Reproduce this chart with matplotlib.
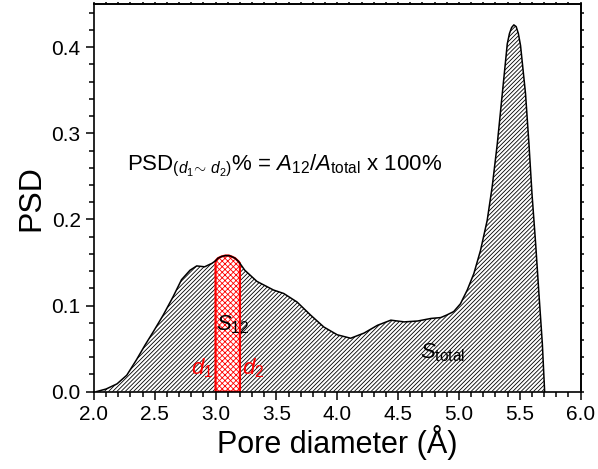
import numpy as np
import matplotlib
matplotlib.use('Agg')
import matplotlib.pyplot as plt
from matplotlib.ticker import MultipleLocator

plt.rcParams['font.family'] = ['Liberation Sans', 'DejaVu Sans']
plt.rcParams['mathtext.fontset'] = 'custom'
plt.rcParams['mathtext.rm'] = 'Liberation Sans'
plt.rcParams['mathtext.it'] = 'Liberation Sans:italic'
plt.rcParams['mathtext.bf'] = 'Liberation Sans:bold'
plt.rcParams['hatch.linewidth'] = 0.6

# pore size distribution
diameter = [2.02, 2.10, 2.19, 2.27, 2.35, 2.42, 2.49, 2.57, 2.65, 2.72, 2.79,
            2.845, 2.91, 2.97, 3.00, 3.02, 3.05, 3.08, 3.11, 3.13, 3.16, 3.19,
            3.20, 3.24, 3.34, 3.476, 3.56, 3.67, 3.78, 3.89, 4.00, 4.11, 4.22,
            4.33, 4.44, 4.55, 4.66, 4.77, 4.85, 4.90, 4.957, 5.012, 5.068,
            5.122, 5.177, 5.232, 5.273, 5.315, 5.356, 5.397, 5.415, 5.433, 5.451,
            5.47, 5.488, 5.506, 5.547, 5.575, 5.60, 5.63, 5.657, 5.685, 5.704]
psd = [0.0, 0.003, 0.009, 0.019, 0.037, 0.054, 0.070, 0.089, 0.110, 0.130, 0.141,
       0.146, 0.145, 0.149, 0.152, 0.155, 0.157, 0.158, 0.158, 0.157, 0.155, 0.151,
       0.149, 0.141, 0.128, 0.118, 0.114, 0.104, 0.089, 0.075, 0.066, 0.062, 0.068,
       0.077, 0.083, 0.081, 0.082, 0.085, 0.086, 0.089, 0.093, 0.102, 0.118,
       0.137, 0.164, 0.199, 0.238, 0.288, 0.346, 0.404, 0.416, 0.423, 0.426,
       0.424, 0.416, 0.402, 0.346, 0.288, 0.230, 0.172, 0.114, 0.056, 0.0]
d1, d2 = 3.0, 3.2

x = np.array(diameter)
y = np.array(psd)

fig, ax = plt.subplots(figsize=(5.98, 4.69), dpi=100)
fig.subplots_adjust(left=0.157, right=0.971, bottom=0.165, top=0.991)

ax.fill_between(x, 0, y, facecolor='white', edgecolor='black', hatch='/' * 8, linewidth=0)
ax.plot(x, y, color='black', lw=1.1)

sel = (x >= d1) & (x <= d2)
xs = x[sel]
ys = y[sel]
ax.fill(np.r_[d1, xs, d2], np.r_[0, ys, 0], facecolor='white', edgecolor='red',
        hatch='x' * 6, linewidth=1.6)

ax.text(2.27, 0.262,
        r'PSD$_{(\mathit{d}_1\!\sim\,\mathit{d}_2)}$% = $\mathit{A}_{\mathrm{12}}$/$\mathit{A}_{\mathrm{total}}$ x 100%',
        fontsize=16, va='center', ha='left')
ax.text(3.0, 0.078, r'$\mathit{S}_{\mathrm{12}}$', fontsize=16, va='center', ha='left')
ax.text(4.68, 0.045, r'$\mathit{S}_{\mathrm{total}}$', fontsize=16, va='center', ha='left')
ax.text(2.80, 0.027, r'$\mathit{d}_{1}$', fontsize=16, color='red', va='center', ha='left')
ax.text(3.22, 0.027, r'$\mathit{d}_{2}$', fontsize=16, color='red', va='center', ha='left')

ax.set_xlim(2.0, 6.0)
ax.set_ylim(0, 0.45)
ax.xaxis.set_major_locator(MultipleLocator(0.5))
ax.xaxis.set_minor_locator(MultipleLocator(0.1))
ax.yaxis.set_major_locator(MultipleLocator(0.1))
ax.yaxis.set_minor_locator(MultipleLocator(0.02))
ax.xaxis.set_major_formatter(plt.FormatStrFormatter('%.1f'))
ax.yaxis.set_major_formatter(plt.FormatStrFormatter('%.1f'))

ax.tick_params(which='both', direction='out', labelsize=15, width=1.1)
ax.tick_params(which='major', length=6)
ax.tick_params(which='minor', length=3.5)
for sp in ax.spines.values():
    sp.set_linewidth(1.2)

# short ticks on the top and right frame
top = ax.secondary_xaxis('top')
top.xaxis.set_major_locator(MultipleLocator(0.5))
top.xaxis.set_minor_locator(MultipleLocator(0.1))
top.tick_params(which='both', direction='out', length=1.5, width=1.1, labeltop=False)
right = ax.secondary_yaxis('right')
right.yaxis.set_major_locator(MultipleLocator(0.1))
right.yaxis.set_minor_locator(MultipleLocator(0.02))
right.tick_params(which='both', direction='out', length=2, width=1.1, labelright=False)
top.spines['top'].set_linewidth(1.2)
right.spines['right'].set_linewidth(1.2)

ax.set_xlabel('Pore diameter (Å)', fontsize=22, labelpad=1)
ax.set_ylabel('PSD', fontsize=23, labelpad=4)

fig.savefig('out.png', dpi=100)
